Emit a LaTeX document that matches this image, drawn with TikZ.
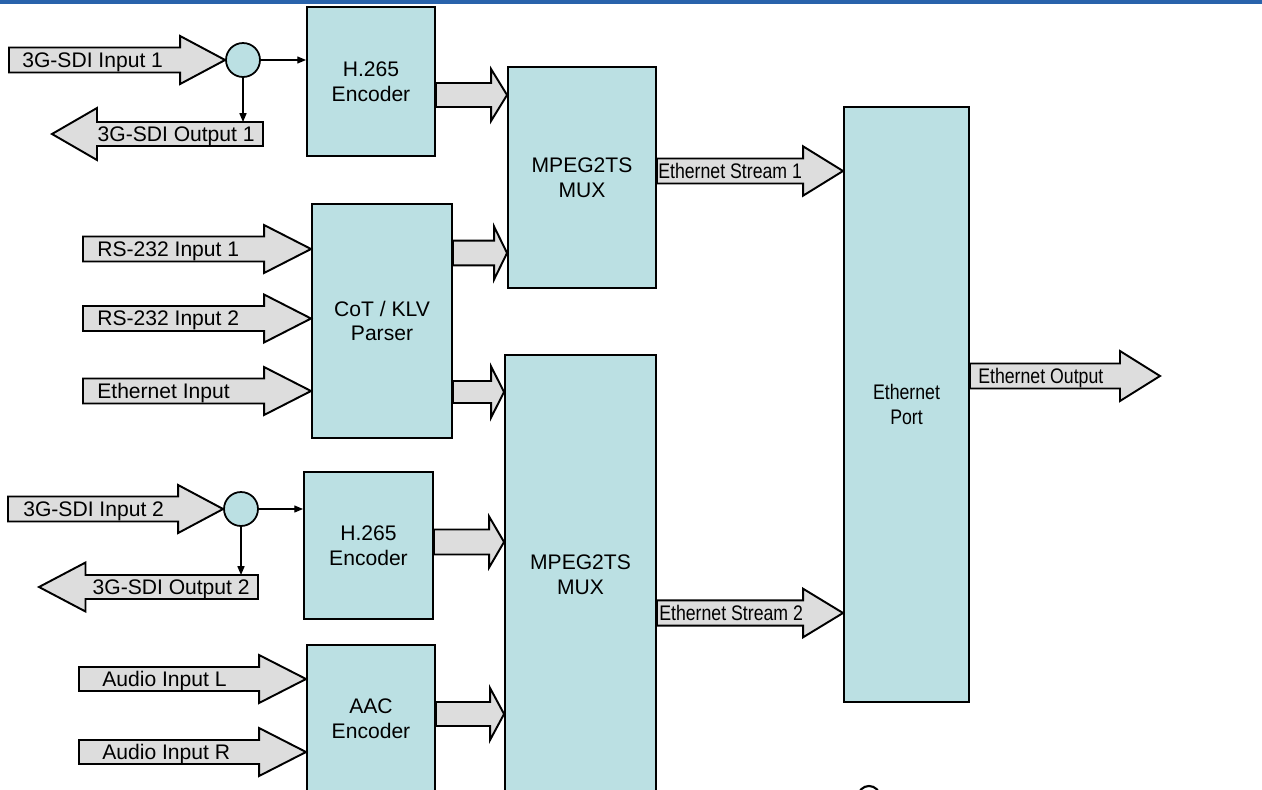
\documentclass[tikz,border=0pt]{standalone}
\usepackage{fontspec}
\setmainfont{Liberation Sans}
\usetikzlibrary{calc,arrows.meta}
\definecolor{boxblue}{RGB}{187,224,227}
\definecolor{pipegray}{RGB}{221,221,221}
\definecolor{barblue}{RGB}{41,99,171}
% fat arrow: tail, tip, shaft half, head half, head length (negative = points left)
\newcommand{\fatarrow}[5]{%
  \draw[pipe] ($(#1)+(0,-#3)$) -- ($(#2)+({-(#5)},-#3)$) -- ($(#2)+({-(#5)},-#4)$) -- (#2)
    -- ($(#2)+({-(#5)},#4)$) -- ($(#2)+({-(#5)},#3)$) -- ($(#1)+(0,#3)$) -- cycle;}
\newcommand{\narrow}[1]{\scalebox{0.84}[1]{#1}}
\begin{document}
\begin{tikzpicture}[x=0.02cm, y=-0.02cm,
  font=\fontsize{12}{14}\selectfont,
  blk/.style={draw, fill=boxblue, line width=1.1pt, align=center, inner sep=0pt},
  junc/.style={draw, circle, fill=boxblue, line width=1pt, minimum size=0.68cm, inner sep=0pt},
  pipe/.style={draw, fill=pipegray, line width=1.1pt, line join=miter},
  lbl/.style={inner sep=0pt, anchor=base west},
  tap/.style={line width=0.7pt, -{Triangle[length=5pt,width=4pt]}}]
  \useasboundingbox (0,0) rectangle (1262,789);
  \fill[barblue] (0,0) rectangle (1262,4);

  % blocks
  \node[blk, minimum width=2.56cm, minimum height=2.98cm] (enc1) at (371,81.5) {H.265\\Encoder};
  \node[blk, minimum width=2.96cm, minimum height=4.42cm] (mux1) at (582,177.5) {MPEG2TS\\MUX};
  \node[blk, minimum width=2.8cm, minimum height=4.68cm] (parser) at (382,321) {CoT / KLV\\Parser};
  \node[blk, minimum width=3.02cm, minimum height=8.8cm] (mux2) at (580.5,575) {MPEG2TS\\MUX};
  \node[blk, minimum width=2.58cm, minimum height=2.94cm] (enc2) at (368.5,545.5) {H.265\\Encoder};
  \node[blk, minimum width=2.56cm, minimum height=2.96cm] (aac) at (371,719) {AAC\\Encoder};
  \node[blk, minimum width=2.5cm, minimum height=11.9cm] (port) at (906.5,404.5) {\narrow{Ethernet}\\\narrow{Port}};
  \node[junc] (j1) at (243,60) {};
  \node[junc] (j2) at (241,509) {};

  % video 1
  \coordinate (sdi1) at (9,60);
  \fatarrow{sdi1}{j1.west}{12.5}{24}{45}
  \node[lbl] (sdi1txt) at ($(sdi1)+(13,7)$) {3G-SDI Input 1};
  \coordinate (sdo1) at (263,134);
  \coordinate (sdo1tip) at (52,134);
  \fatarrow{sdo1}{sdo1tip}{12}{26}{-45}
  \node[inner sep=0pt, anchor=base east] (sdo1txt) at ($(sdo1)+(-8,7)$) {3G-SDI Output 1};
  \draw[tap] (j1.east) -- (j1.east -| enc1.west);
  \draw[tap] (j1.south) -- (j1.south |- 0,122);

  % serial / ethernet in
  \foreach \y/\txt [count=\i] in {249/RS-232 Input 1, 318.5/RS-232 Input 2, 391/Ethernet Input}{
    \coordinate (ser\i) at (83,\y);
    \fatarrow{ser\i}{parser.west |- ser\i}{12.5}{24}{47}
    \node[lbl] (ser\i txt) at ($(ser\i)+(14,7)$) {\txt};
  }

  % video 2
  \coordinate (sdi2) at (8,509);
  \fatarrow{sdi2}{j2.west}{12.5}{24}{45}
  \node[lbl] (sdi2txt) at ($(sdi2)+(15,7)$) {3G-SDI Input 2};
  \coordinate (sdo2) at (258,587);
  \coordinate (sdo2tip) at (39,587);
  \fatarrow{sdo2}{sdo2tip}{12}{24.5}{-46.5}
  \node[inner sep=0pt, anchor=base east] (sdo2txt) at ($(sdo2)+(-8,7)$) {3G-SDI Output 2};
  \draw[tap] (j2.east) -- (j2.east -| enc2.west);
  \draw[tap] (j2.south) -- (j2.south |- 0,575);

  % audio
  \foreach \y/\txt [count=\i] in {679/Audio Input L, 752/Audio Input R}{
    \coordinate (aud\i) at (79,\y);
    \fatarrow{aud\i}{aac.west |- aud\i}{12}{24}{47}
    \node[lbl] (aud\i txt) at ($(aud\i)+(23,7)$) {\txt};
  }

  % into the muxes
  \fatarrow{enc1.east |- 0,95}{mux1.west |- 0,95}{12}{26}{16}
  \fatarrow{parser.east |- 0,253}{mux1.west |- 0,253}{12.3}{26.5}{13}
  \fatarrow{parser.east |- 0,392}{mux2.west |- 0,392}{11}{25.6}{13}
  \fatarrow{enc2.east |- 0,542}{mux2.west |- 0,542}{12.5}{25.6}{15}
  \fatarrow{aac.east |- 0,714}{mux2.west |- 0,714}{12}{26}{14}

  % streams and output
  \fatarrow{mux1.east |- 0,171}{port.west |- 0,171}{12.5}{24.7}{40}
  \node[lbl] (str1txt) at ($(mux1.east |- 0,171)+(1,7)$) {\narrow{Ethernet Stream 1}};
  \fatarrow{mux2.east |- 0,613}{port.west |- 0,613}{12.7}{24.3}{40}
  \node[lbl] (str2txt) at ($(mux2.east |- 0,613)+(2,7)$) {\narrow{Ethernet Stream 2}};
  \coordinate (ethout) at (1160,376);
  \fatarrow{port.east |- ethout}{ethout}{12.5}{25}{40}
  \node[lbl] (ethouttxt) at ($(port.east |- ethout)+(8,7)$) {\narrow{Ethernet Output}};

  \draw[line width=1.2pt] (869,797) circle (0.22cm);
\end{tikzpicture}
\end{document}
